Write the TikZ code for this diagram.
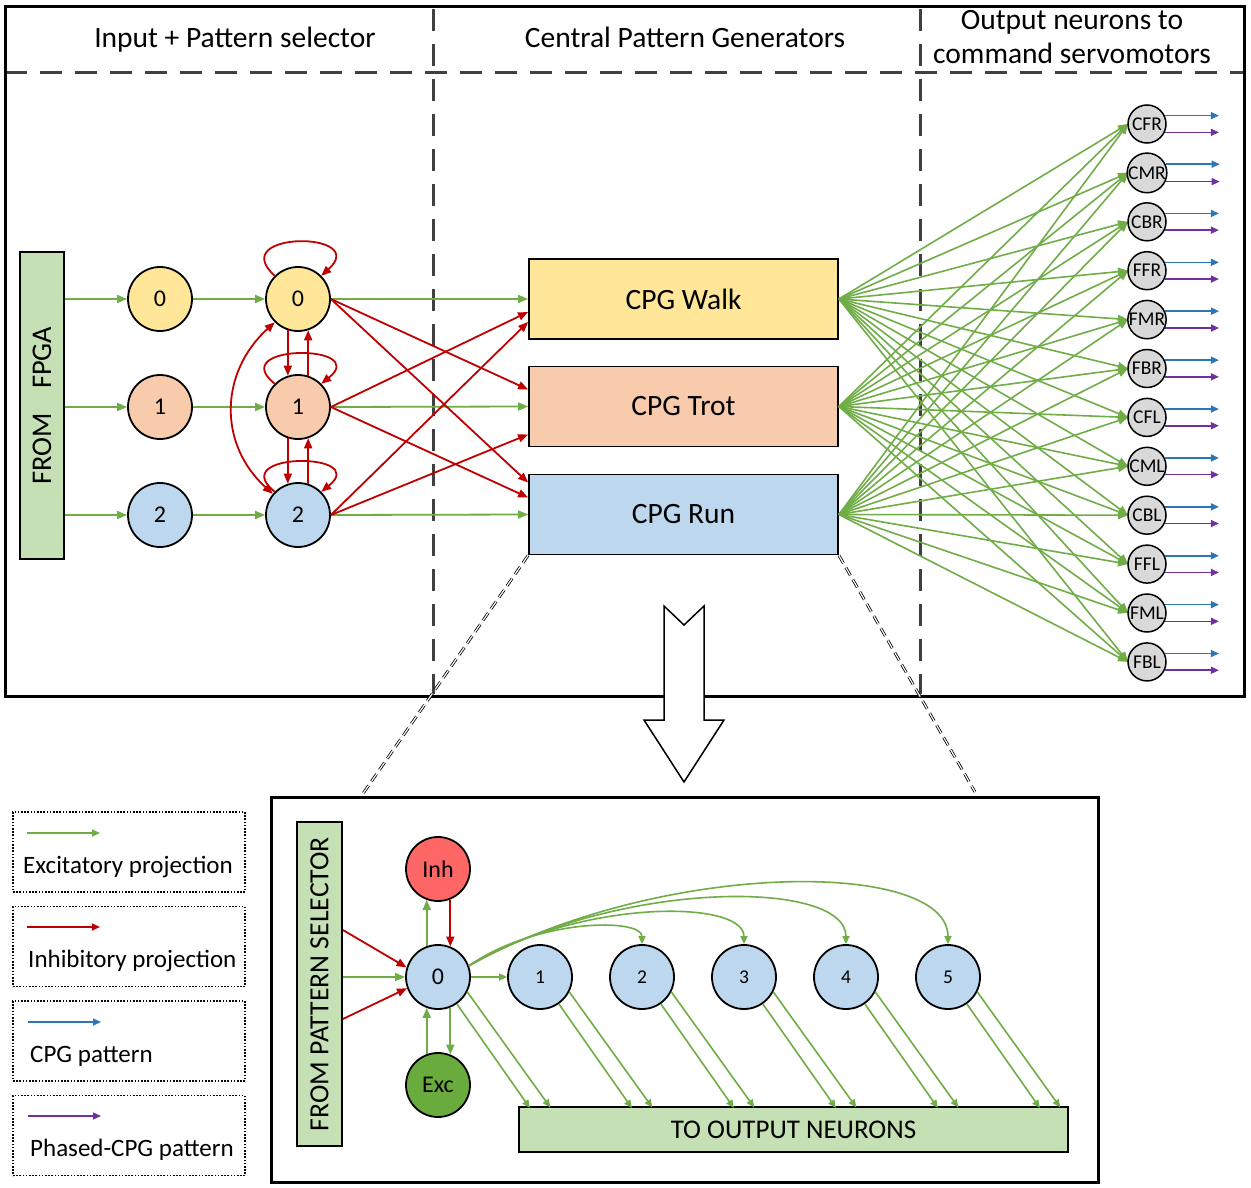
\documentclass[tikz,border=0pt]{standalone}
\usepackage{fontspec}
\setmainfont{Carlito}
\usetikzlibrary{arrows.meta,calc}
\definecolor{cgreen}{HTML}{70AD47}
\definecolor{cred}{HTML}{C00000}
\definecolor{cblue}{HTML}{2E75B6}
\definecolor{cpurple}{HTML}{7030A0}
\definecolor{fyel}{HTML}{FFE699}
\definecolor{forg}{HTML}{F8CBAD}
\definecolor{fblu}{HTML}{BDD7EE}
\definecolor{fgrn}{HTML}{C5E0B4}
\definecolor{fgray}{HTML}{D9D9D9}
\definecolor{finh}{HTML}{FF6666}
\definecolor{fexc}{HTML}{6AAB3E}
\definecolor{cdark}{HTML}{404040}
\newcommand{\fsz}[1]{\fontsize{#1}{#1}\selectfont}
\begin{document}
\begin{tikzpicture}[x=1pt,y=-1pt,
  tipA/.tip={Triangle[length=10pt,width=8pt]},
  tipB/.tip={Triangle[length=8pt,width=7pt]},
  excarrow/.style={draw=cgreen, line width=1.8pt, -tipA},
  inharrow/.style={draw=cred, line width=1.8pt, -tipA},
  excsmall/.style={draw=cgreen, line width=1.6pt, -tipB},
  neuron/.style={circle, draw=black, line width=1.8pt, minimum size=64pt, inner sep=0pt, font=\fsz{24}},
  outn/.style={circle, draw=black, line width=1.5pt, fill=fgray, minimum size=38pt, inner sep=0pt, font=\fsz{19.5}},
  cpgbox/.style={draw=black, line width=1.8pt, minimum width=309pt, minimum height=80pt, inner sep=0pt, font=\fsz{29.5}},
  greenbox/.style={draw=black, line width=1.8pt, fill=fgrn, inner sep=0pt},
  divline/.style={draw=cdark, line width=3pt, dash pattern=on 22pt off 13pt},
  zoomline/.style={draw=black, line width=0.8pt, double=white, double distance=1.2pt, dash pattern=on 9pt off 5pt},
  legbox/.style={draw=black, line width=1.2pt, dash pattern=on 1.6pt off 1.6pt, minimum width=232pt, minimum height=80pt, inner sep=0pt},
  legtext/.style={anchor=base west, font=\fsz{25}, inner sep=0pt},
  head/.style={anchor=base, font=\fsz{29.5}, inner sep=0pt}
]
\useasboundingbox (0,0) rectangle (1251,1188);
\fill[white] (0,0) rectangle (1251,1188);

% ---------- upper panel frame ----------
\draw[divline] (5,73) -- (1244,73);
\draw[divline] (433,9) -- (433,694);
\draw[divline] (920,9) -- (920,694);
\draw[line width=3pt] (5,7) rectangle (1244,696);

\node[head] (h1) at (235,48) {Input + Pattern selector};
\node[head] (h2) at (685,48) {Central Pattern Generators};
\node[head] (h3) at (1072,30) {Output neurons to};
\node[head] (h4) at (1072,64) {command servomotors};

% ---------- input + pattern selector ----------
\node[greenbox, minimum width=44pt, minimum height=307pt] (fpga) at (42,405.5)
  {\rotatebox{90}{\fsz{28.5}FROM\hspace{24pt}FPGA}};

\node[neuron, fill=fyel] (i0) at (160,299) {0};
\node[neuron, fill=forg] (i1) at (160,407) {1};
\node[neuron, fill=fblu] (i2) at (160,515) {2};
\node[neuron, fill=fyel] (s0) at (298,299) {0};
\node[neuron, fill=forg] (s1) at (298,407) {1};
\node[neuron, fill=fblu] (s2) at (298,515) {2};

\node[cpgbox, fill=fyel] (walk) at (683.5,299) {CPG Walk};
\node[cpgbox, fill=forg] (trot) at (683.5,406.5) {CPG Trot};
\node[cpgbox, fill=fblu] (run) at (683.5,514.5) {CPG Run};

\foreach \k in {0,1,2} {
  \draw[excarrow] (fpga.east |- i\k.west) -- (i\k.west);
  \draw[excarrow] (i\k.east) -- (s\k.west);
}
\draw[excarrow] (s0.east) -- (walk.west);
\draw[excarrow] (s1.east) -- (trot.west);
\draw[excarrow] (s2.east) -- (run.west);

% inhibitory projections to CPGs
\draw[inharrow] (s0.east) -- ([yshift=17pt]trot.west);
\draw[inharrow] (s0.east) -- ([yshift=32pt]run.west);
\draw[inharrow] (s1.east) -- ([yshift=-13pt]walk.west);
\draw[inharrow] (s1.east) -- ([yshift=17pt]run.west);
\draw[inharrow] (s2.east) -- ([yshift=-23pt]walk.west);
\draw[inharrow] (s2.east) -- ([yshift=-28pt]trot.west);

% self loops
\draw[inharrow] (s0.135) .. controls +(-50,-45) and +(50,-45) .. (s0.45);
\draw[inharrow] (s1.135) .. controls +(-50,-40) and +(50,-40) .. (s1.45);
\draw[inharrow] (s2.135) .. controls +(-50,-40) and +(50,-40) .. (s2.45);
% mutual inhibition
\draw[inharrow] (s0.252) -- (s1.108);
\draw[inharrow] (s1.72) -- (s0.288);
\draw[inharrow] (s1.252) -- (s2.108);
\draw[inharrow] (s2.72) -- (s1.288);
\draw[draw=cred, line width=1.8pt, tipA-tipA] (s0.225) .. controls +(-55,50) and +(-55,-50) .. (s2.140);

% ---------- output neurons ----------
\foreach \lab [count=\i from 0] in {CFR,CMR,CBR,FFR,FMR,FBR,CFL,CML,CBL,FFL,FML,FBL} {
  \coordinate (p\i) at (1147,{124+48.9*\i});
}
\foreach \b in {walk,trot,run} {
  \foreach \i in {0,...,11} {
    \draw[excarrow, line width=1.6pt] (\b.east) -- ([xshift=-19pt]p\i);
  }
}
\foreach \lab [count=\i from 0] in {CFR,CMR,CBR,FFR,FMR,FBR,CFL,CML,CBL,FFL,FML,FBL} {
  \node[outn] (o\i) at (p\i) {\lab};
  \draw[draw=cblue, line width=1.6pt, -tipB] (o\i.25) -- ++(54,0);
  \draw[draw=cpurple, line width=1.6pt, -tipB] (o\i.-25) -- ++(54,0);
}

% ---------- zoom lines and big arrow ----------
\coordinate (zl) at (362,795);
\coordinate (zr) at (975,792);
\draw[zoomline] (run.south west) -- (zl);
\draw[zoomline] (run.south east) -- (zr);
\draw[fill=white, line width=1.5pt, line join=miter]
  (664,606) -- (684,625) -- (704,606) -- (704,720) -- (724,720) -- (684,782)
  -- (644,720) -- (664,720) -- cycle;

% ---------- lower panel ----------
\draw[line width=3pt] (271,797) rectangle (1098,1182);
\node[greenbox, minimum width=45pt, minimum height=324pt] (fps) at (319.5,984)
  {\rotatebox{90}{\fsz{27.7}FROM PATTERN SELECTOR}};
\node[greenbox, minimum width=549pt, minimum height=45pt, font=\fsz{27}] (tobar) at (793.5,1129.5)
  {TO OUTPUT NEURONS};

\node[neuron, fill=fblu] (n0) at (438,977) {0};
\node[neuron, fill=finh] (inh) at (438,869) {Inh};
\node[neuron, fill=fexc] (exc) at (438,1085) {Exc};
\foreach \k in {1,...,5} {
  \node[neuron, fill=fblu, font=\fsz{19.5}] (m\k) at ({540+102*(\k-1)},977) {\k};
}

\draw[inharrow] ([yshift=54pt]fps.east) -- (n0.163);
\draw[excarrow] ([yshift=7pt]fps.east) -- (n0.west);
\draw[inharrow] ([yshift=-35pt]fps.east) -- (n0.200);

\draw[excarrow] (n0.110) -- (inh.250);
\draw[inharrow] (inh.292) -- (n0.68);
\draw[excarrow] (exc.110) -- (n0.250);
\draw[excarrow] (n0.292) -- (exc.68);

\draw[excsmall] (n0.east) -- (m1.west);
\draw[excsmall] (n0.20) .. controls (538,918) and (642,918) .. (m2.north);
\draw[excsmall] (n0.20) .. controls (579,899) and (744,899) .. (m3.north);
\draw[excsmall] (n0.20) .. controls (620,879) and (846,879) .. (m4.north);
\draw[excsmall] (n0.20) .. controls (661,859) and (948,859) .. (m5.north);

\foreach \n in {n0,m1,m2,m3,m4,m5} {
  \draw[excsmall] (\n.-55) -- ++(73,104);
  \draw[excsmall] (\n.-27) -- ++(83,115.5);
}

% ---------- legend ----------
\node[legbox] (l1) at (129,852) {};
\node[legbox] (l2) at (129,946.5) {};
\node[legbox] (l3) at (129,1041) {};
\node[legbox] (l4) at (129,1135.5) {};
\coordinate (l1a) at (27,833);   \coordinate (l1b) at (100,833);
\coordinate (l2a) at (27,927);   \coordinate (l2b) at (100,927);
\coordinate (l3a) at (28,1022);  \coordinate (l3b) at (101,1022);
\coordinate (l4a) at (28,1116);  \coordinate (l4b) at (101,1116);
\draw[excsmall] (l1a) -- (l1b);
\draw[draw=cred, line width=1.6pt, -tipB] (l2a) -- (l2b);
\draw[draw=cblue, line width=1.6pt, -tipB] (l3a) -- (l3b);
\draw[draw=cpurple, line width=1.6pt, -tipB] (l4a) -- (l4b);
\node[legtext] (t1) at (23,873) {Excitatory projection};
\node[legtext] (t2) at (28,967) {Inhibitory projection};
\node[legtext] (t3) at (30,1062) {CPG pattern};
\node[legtext] (t4) at (30,1156) {Phased-CPG pattern};
\end{tikzpicture}
\end{document}
